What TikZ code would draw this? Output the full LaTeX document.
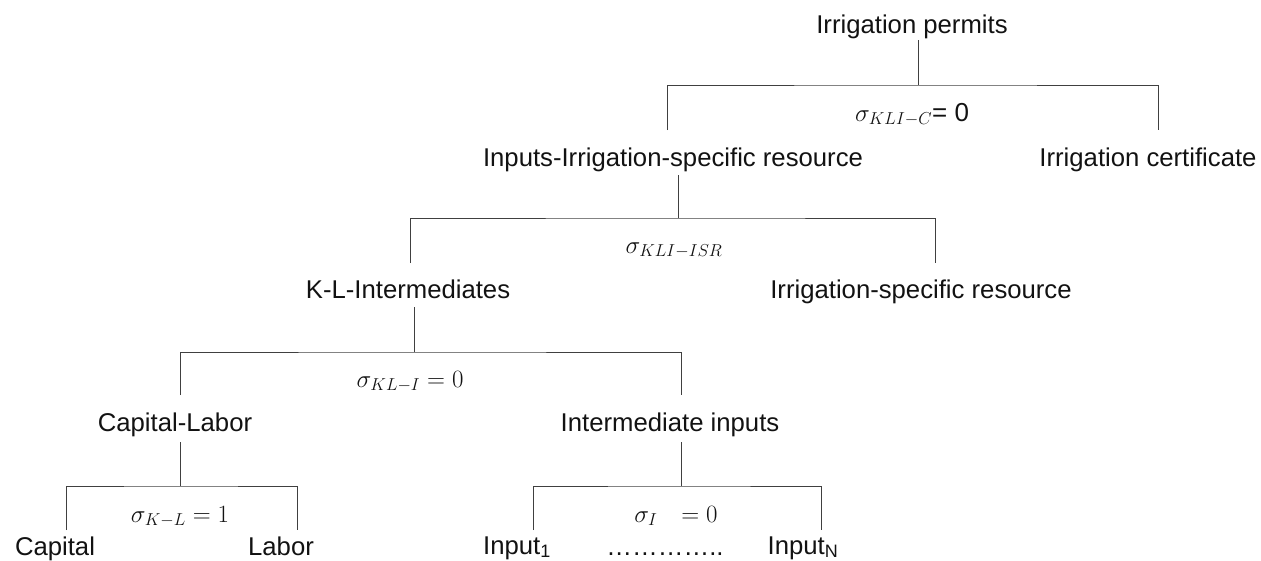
\documentclass[tikz,border=0pt]{standalone}
\usepackage{fontspec}
\setmainfont{Liberation Sans}
\begin{document}
\begin{tikzpicture}[x=1pt,y=-1pt,
  lbl/.style={anchor=base, inner sep=0pt, text=black!93, font=\fontsize{25.7}{30}\selectfont},
  sig/.style={anchor=base, inner sep=0pt, text=black!93, font=\fontsize{26}{30}\selectfont},
  conn/.style={draw=black!75, line width=1pt}]
\useasboundingbox (0,0) rectangle (1261,560);

% text nodes
\node[lbl] (ip)   at (912,33)  {Irrigation permits};
\node[lbl] (iisr) at (673,166) {Inputs-Irrigation-specific resource};
\node[lbl] (ic)   at (1148,166) {Irrigation certificate};
\node[lbl] (kli)  at (408,298) {K-L-Intermediates};
\node[lbl] (isr)  at (921,298) {Irrigation-specific resource};
\node[lbl] (cl)   at (175,431) {Capital-Labor};
\node[lbl] (ii)   at (670,431) {Intermediate inputs};
\node[lbl] (cap)  at (55,555)  {Capital};
\node[lbl] (lab)  at (281,555) {Labor};
\node[lbl] (in1)  at (517,554) {Input\textsubscript{1}};
\node[lbl] (dots) at (665,555) {…………..};
\node[lbl] (inN)  at (803,554) {Input\textsubscript{N}};

% elasticity labels
\node[sig] (s1) at (912,121) {$\sigma_{KLI-C}$= 0};
\node[sig] (s2) at (674,253) {$\sigma_{KLI-ISR}$};
\node[sig] (s3) at (410,387) {$\sigma_{KL-I}=0$};
\node[sig] (s4) at (180,522) {$\sigma_{K-L}=1$};
\node[sig] (s5) at (676,522) {$\sigma_{I}\hspace{17pt}=0$};

% junction and end coordinates
\coordinate (ip-s)   at (918,40);  \coordinate (j1) at (918,85);
\coordinate (iisr-n) at (667,130); \coordinate (ic-n) at (1158,130);
\coordinate (iisr-s) at (678,175); \coordinate (j2) at (678,218);
\coordinate (kli-n)  at (410,263); \coordinate (isr-n) at (935,263);
\coordinate (kli-s)  at (414,307); \coordinate (j3) at (414,352);
\coordinate (cl-n)   at (180,395); \coordinate (ii-n) at (681,395);
\coordinate (cl-s)   at (180,442); \coordinate (j4) at (180,486);
\coordinate (cap-n)  at (66,530);  \coordinate (lab-n) at (297,530);
\coordinate (ii-s)   at (681,442); \coordinate (j5) at (681,486);
\coordinate (in1-n)  at (533,530); \coordinate (inN-n) at (821,530);

% connectors
\draw[conn] (ip-s) -- (j1);
\draw[conn] (iisr-n) |- (j1) -| (ic-n);
\draw[conn] (iisr-s) -- (j2);
\draw[conn] (kli-n) |- (j2) -| (isr-n);
\draw[conn] (kli-s) -- (j3);
\draw[conn] (cl-n) |- (j3) -| (ii-n);
\draw[conn] (cl-s) -- (j4);
\draw[conn] (cap-n) |- (j4) -| (lab-n);
\draw[conn] (ii-s) -- (j5);
\draw[conn] (in1-n) |- (j5) -| (inN-n);
\end{tikzpicture}
\end{document}
